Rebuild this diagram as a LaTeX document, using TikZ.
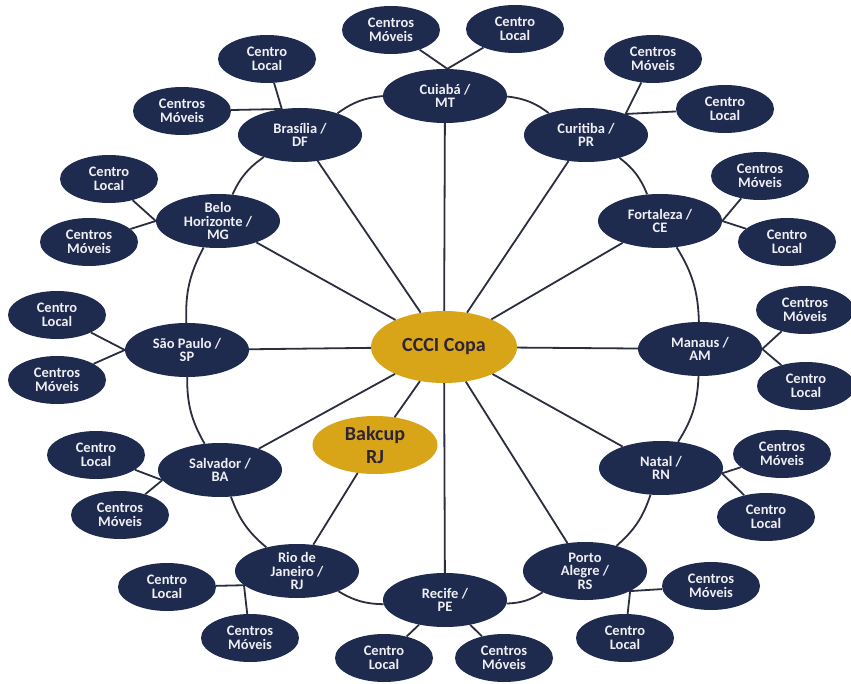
\documentclass[tikz,border=0pt]{standalone}
\usepackage{fontspec}
\setmainfont{Carlito}
\usetikzlibrary{shapes.geometric}
\definecolor{navy}{HTML}{1E2A4E}
\definecolor{gold}{HTML}{D8A418}
\definecolor{linec}{HTML}{2A2E3E}
\definecolor{goldtext}{HTML}{2E2438}
\definecolor{lighttext}{HTML}{EEEEF3}
\begin{document}
\begin{tikzpicture}[x=1pt,y=1pt,
 city/.style={ellipse, fill=navy, text=lighttext, font=\fontsize{14.5}{13.5}\selectfont\bfseries, align=center, minimum width=124pt, minimum height=54pt, inner sep=0pt},
 sat/.style={city, minimum width=98pt, minimum height=48pt},
 hub/.style={ellipse, fill=gold, text=goldtext, font=\fontsize{20}{23}\selectfont\bfseries, align=center, inner sep=0pt},
 link/.style={draw=linec, line width=1.8pt}]
\fill[white] (0,0) rectangle (851,-684);
\useasboundingbox (0,0) rectangle (851,-684);
% hubs
\node[hub, minimum width=146pt, minimum height=72pt] (ccci) at (444,-347) {CCCI Copa};
\node[hub, minimum width=125pt, minimum height=58pt] (bak) at (375,-445) {Bakcup\\RJ};
% cities
\node[city] (cui) at (445,-96) {Cuiabá /\\MT};
\node[city] (cur) at (586,-135) {Curitiba /\\PR};
\node[city] (fort) at (660,-221) {Fortaleza /\\CE};
\node[city] (man) at (700,-349) {Manaus /\\AM};
\node[city] (nat) at (661,-468) {Natal /\\RN};
\node[city, minimum height=58pt] (pa) at (585,-571) {Porto\\Alegre /\\RS};
\node[city] (rec) at (445,-600) {Recife /\\PE};
\node[city] (rio) at (297,-571) {Rio de\\Janeiro /\\RJ};
\node[city] (sal) at (220,-470) {Salvador /\\BA};
\node[city] (sp) at (187,-350) {São Paulo /\\SP};
\node[city] (bh) at (218,-221) {Belo\\Horizonte /\\MG};
\node[city] (bra) at (300,-135) {Brasília /\\DF};
% satellites
\node[sat] (cuiM) at (391,-30) {Centros\\Móveis};
\node[sat] (cuiL) at (515,-29) {Centro\\Local};
\node[sat] (braL) at (267,-59) {Centro\\Local};
\node[sat] (braM) at (182,-111) {Centros\\Móveis};
\node[sat] (curM) at (653,-59) {Centros\\Móveis};
\node[sat] (curL) at (725,-109) {Centro\\Local};
\node[sat] (fortM) at (760,-176) {Centros\\Móveis};
\node[sat] (fortL) at (787,-242) {Centro\\Local};
\node[sat] (manM) at (805,-310) {Centros\\Móveis};
\node[sat] (manL) at (806,-386) {Centro\\Local};
\node[sat] (natM) at (782,-454) {Centros\\Móveis};
\node[sat] (natL) at (766,-517) {Centro\\Local};
\node[sat] (paM) at (711,-586) {Centros\\Móveis};
\node[sat] (paL) at (625,-638) {Centro\\Local};
\node[sat] (recL) at (384,-658) {Centro\\Local};
\node[sat] (recM) at (504,-658) {Centros\\Móveis};
\node[sat] (rioL) at (167,-587) {Centro\\Local};
\node[sat] (rioM) at (250,-638) {Centros\\Móveis};
\node[sat] (salL) at (96,-455) {Centro\\Local};
\node[sat] (salM) at (120,-515) {Centros\\Móveis};
\node[sat] (spL) at (57,-315) {Centro\\Local};
\node[sat] (spM) at (57,-380) {Centros\\Móveis};
\node[sat] (bhL) at (109,-179) {Centro\\Local};
\node[sat] (bhM) at (89,-242) {Centros\\Móveis};
% spokes
\foreach \n in {cui,cur,fort,man,nat,pa,rec,sal,sp,bh,bra}
  \draw[link] (ccci) -- (\n);
\draw[link] (ccci) -- (bak);
\draw[link] (bak) -- (rio);
% ring
\draw[link] (cui) to[bend left=15] (cur);
\draw[link] (cur) to[bend left=15] (fort);
\draw[link] (fort) to[bend left=15] (man);
\draw[link] (man) to[bend left=15] (nat);
\draw[link] (nat) to[bend left=15] (pa);
\draw[link] (pa) to[bend left=15] (rec);
\draw[link] (rec) to[bend left=15] (rio);
\draw[link] (rio) to[bend left=15] (sal);
\draw[link] (sal) to[bend left=15] (sp);
\draw[link] (sp) to[bend left=15] (bh);
\draw[link] (bh) to[bend left=15] (bra);
\draw[link] (bra) to[bend left=15] (cui);
% satellite links
\draw[link] (cuiM) -- (cui.85);
\draw[link] (cuiL) -- (cui.85);
\draw[link] (braL) -- (bra.125);
\draw[link] (braM) -- (bra.125);
\draw[link] (curM) -- (cur.28);
\draw[link] (curL) -- (cur.28);
\draw[link] (fortM) -- (fort.east);
\draw[link] (fortL) -- (fort.east);
\draw[link] (manM) -- (man.east);
\draw[link] (manL) -- (man.east);
\draw[link] (natM) -- (nat.-5);
\draw[link] (natL) -- (nat.-5);
\draw[link] (paM) -- (pa.-24);
\draw[link] (paL) -- (pa.-24);
\draw[link] (recL) -- (rec);
\draw[link] (recM) -- (rec);
\draw[link] (rioL) -- (rio.195);
\draw[link] (rioM) -- (rio.195);
\draw[link] (salL) -- (sal.190);
\draw[link] (salM) -- (sal.190);
\draw[link] (spL) -- (sp.west);
\draw[link] (spM) -- (sp.west);
\draw[link] (bhL) -- (bh.west);
\draw[link] (bhM) -- (bh.west);
\end{tikzpicture}
\end{document}
